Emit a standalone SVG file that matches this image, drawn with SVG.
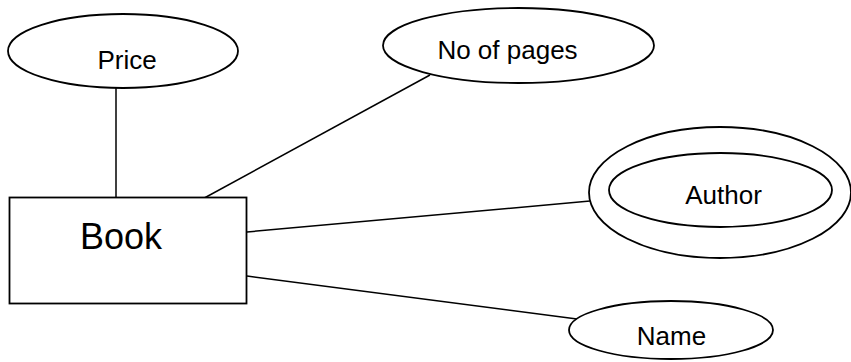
<svg xmlns="http://www.w3.org/2000/svg" width="851" height="362" viewBox="0 0 851 362">
<style>
.shape{fill:#fff;stroke:#000;stroke-width:1.8}
.conn{stroke:#000;stroke-width:1.5;fill:none}
.lbl{font-family:"Liberation Sans",Arial,sans-serif;font-size:26px;fill:#000;text-anchor:middle}
.big{font-size:36px}
</style>
<rect width="851" height="362" fill="#fff"/>
<g id="connectors">
<line class="conn" x1="116" y1="88" x2="116" y2="201"/>
<line class="conn" x1="197" y1="202" x2="430" y2="75"/>
<line class="conn" x1="247" y1="232" x2="590" y2="201"/>
<line class="conn" x1="247" y1="276" x2="577" y2="319"/>
</g>
<g id="price">
<ellipse class="shape" cx="123" cy="51" rx="115" ry="37"/>
<text class="lbl" x="127" y="69">Price</text>
</g>
<g id="pages">
<ellipse class="shape" cx="518.5" cy="45.5" rx="135.5" ry="37.5"/>
<text class="lbl" x="507.5" y="59">No of pages</text>
</g>
<g id="author">
<ellipse class="shape" cx="720" cy="192.5" rx="131" ry="65.5"/>
<ellipse class="shape" cx="720.5" cy="190" rx="111.5" ry="37"/>
<text class="lbl" x="723.5" y="204">Author</text>
</g>
<g id="name">
<ellipse class="shape" cx="671" cy="330" rx="102" ry="29"/>
<text class="lbl" x="671.5" y="345">Name</text>
</g>
<g id="book">
<rect class="shape" x="9.5" y="197.5" width="237" height="106"/>
<text class="lbl big" x="121" y="249">Book</text>
</g>
</svg>
